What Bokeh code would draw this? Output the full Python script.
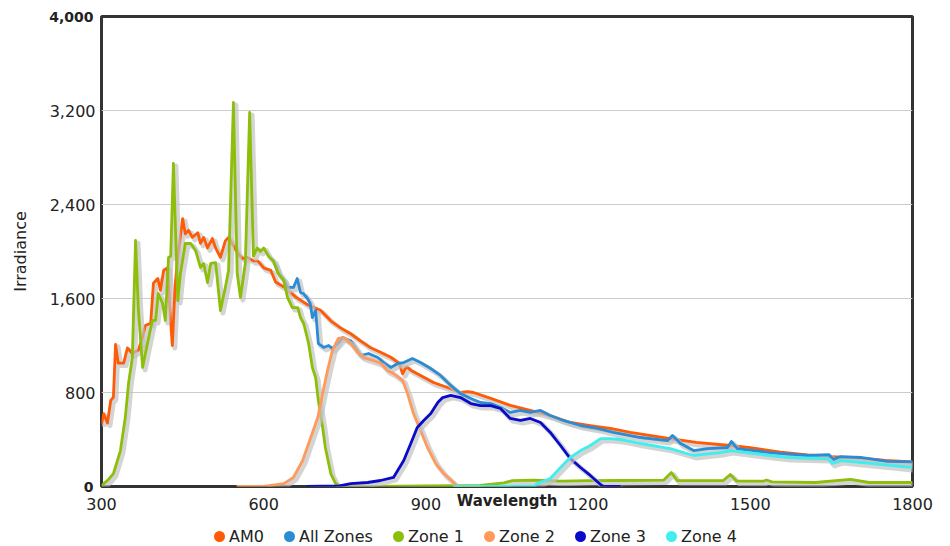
from bokeh.plotting import figure
from bokeh.layouts import column
from bokeh.models import (Range1d, NumeralTickFormatter, FixedTicker, Legend,
                          LegendItem, ColumnDataSource, LinearAxis)
from bokeh.transform import dodge
from bokeh.embed import file_html
from bokeh.resources import INLINE

# ---------------- data ----------------
wavelength_ticks = [300, 600, 900, 1200, 1500, 1800]
irradiance_ticks = [0, 800, 1600, 2400, 3200, 4000]
series_names = ["AM0", "All Zones", "Zone 1", "Zone 2", "Zone 3", "Zone 4"]

am0_x = [300, 304, 311, 317, 322, 326, 331, 341, 348, 357, 363, 368, 376, 381, 391,
         396, 404, 409, 415, 422, 428, 431, 436, 441, 450, 455, 461, 468, 478, 483,
         489, 496, 505, 511, 520, 529, 535, 544, 551, 561, 570, 581, 589, 600, 613,
         622, 640, 660, 680, 705, 724, 742, 761, 779, 798, 817, 835, 850, 857, 864,
         872, 890, 914, 940, 964, 977, 988, 1020, 1056, 1093, 1130, 1167, 1204, 1241,
         1278, 1352, 1400, 1463, 1500, 1556, 1606, 1650, 1700, 1750, 1800]
am0_y = [530, 620, 540, 730, 760, 1210, 1050, 1050, 1180, 1130, 1150, 1160, 1270, 1370, 1390,
         1730, 1770, 1670, 1840, 1860, 1390, 1200, 1700, 1950, 2280, 2150, 2180, 2120, 2160, 2070,
         2120, 2030, 2110, 2030, 1950, 2090, 2120, 2050, 1990, 1940, 1950, 1920, 1920, 1860, 1840,
         1740, 1690, 1610, 1550, 1500, 1410, 1350, 1300, 1240, 1180, 1140, 1100, 1050, 960, 1020,
         990, 945, 885, 843, 800, 808, 800, 750, 690, 647, 604, 545, 519, 494,
         460, 408, 375, 349, 330, 293, 268, 255, 243, 222, 210]

all_x = [618, 627, 637, 644, 655, 662, 668, 674, 681, 686, 690, 696, 701, 711, 720,
         727, 737, 746, 761, 779, 794, 811, 822, 835, 848, 859, 875, 890, 909, 927,
         946, 964, 983, 1001, 1020, 1038, 1056, 1075, 1093, 1112, 1130, 1154, 1186, 1217, 1247,
         1278, 1297, 1347, 1356, 1371, 1395, 1421, 1458, 1465, 1476, 1537, 1606, 1645, 1654, 1667,
         1704, 1754, 1800]
all_y = [1920, 1813, 1760, 1694, 1694, 1770, 1651, 1640, 1600, 1560, 1438, 1498, 1217, 1183, 1200,
         1174, 1217, 1268, 1240, 1115, 1132, 1098, 1055, 1013, 1047, 1055, 1089, 1055, 1004, 945,
         860, 791, 749, 715, 706, 672, 630, 647, 630, 647, 604, 562, 519, 494, 460,
         434, 417, 391, 434, 366, 306, 323, 332, 383, 323, 289, 264, 272, 230, 255,
         247, 213, 210]

z1_x = [300, 304, 313, 322, 335, 344, 350, 357, 363, 368, 376, 385, 394, 400, 405,
        413, 418, 424, 428, 433, 441, 446, 455, 465, 474, 483, 489, 496, 502, 511,
        520, 529, 535, 544, 551, 557, 566, 574, 581, 588, 594, 600, 609, 618, 627,
        637, 644, 653, 663, 668, 674, 683, 690, 696, 701, 709, 714, 724, 733, 742,
        800, 900, 1000, 1044, 1060, 1100, 1150, 1200, 1260, 1340, 1354, 1365, 1450, 1463, 1475,
        1524, 1530, 1540, 1620, 1685, 1720, 1800]
z1_y = [0, 25, 60, 110, 306, 587, 877, 1098, 2094, 1523, 1013, 1217, 1413, 1413, 1643,
        1557, 1413, 1949, 1960, 2749, 1583, 1813, 2068, 2068, 2009, 1864, 1898, 1736, 1898, 1906,
        1498, 1694, 1838, 3268, 1813, 1609, 1898, 3183, 1960, 2030, 2000, 2030, 1960, 1920, 1813,
        1753, 1609, 1523, 1523, 1438, 1387, 1217, 1013, 928, 732, 502, 332, 110, 25, 0,
        0, 5, 10, 30, 50, 55, 45, 50, 51, 55, 119, 50, 51, 102, 45,
        45, 55, 40, 34, 60, 34, 34]

z2_x = [550, 600, 637, 655, 672, 687, 700, 709, 718, 727, 738, 748, 761, 774, 785,
        803, 817, 829, 840, 857, 866, 877, 890, 903, 918, 933, 951, 958, 1000]
z2_y = [0, 0, 25, 77, 221, 417, 587, 791, 987, 1157, 1260, 1268, 1217, 1140, 1098,
        1072, 1047, 987, 962, 902, 791, 621, 477, 332, 196, 110, 34, 0, 0]

z3_x = [680, 740, 761, 792, 816, 840, 859, 872, 884, 896, 909, 922, 931, 946, 964,
        983, 1001, 1020, 1038, 1056, 1075, 1093, 1112, 1130, 1149, 1167, 1186, 1204, 1223, 1228,
        1260]
z3_y = [0, 5, 25, 34, 51, 77, 221, 366, 502, 562, 621, 715, 757, 775, 757,
        706, 689, 689, 664, 579, 562, 579, 545, 460, 349, 238, 162, 94, 17, 0,
        0]

z4_x = [950, 1100, 1106, 1130, 1149, 1167, 1186, 1204, 1223, 1241, 1260, 1278, 1297, 1352, 1395,
        1445, 1463, 1506, 1569, 1643, 1652, 1667, 1722, 1796, 1800]
z4_y = [0, 0, 25, 68, 162, 247, 306, 349, 408, 408, 400, 385, 366, 323, 264,
        289, 306, 281, 247, 238, 196, 221, 196, 162, 160]

# ---------------- style ----------------
colors = ["#ff5a05", "#2b8bd5", "#8cbe0a", "#ff9a5c", "#0a0acb", "#40eeee"]
text_color = "#222222"
font = "DejaVu Sans"

p = figure(width=950, height=516, output_backend="svg", toolbar_location=None,
           x_range=Range1d(300, 1800), y_range=Range1d(0, 4000),
           min_border_left=101, min_border_right=38, min_border_top=16, min_border_bottom=30,
           background_fill_color="white", border_fill_color="white")

p.outline_line_color = "#333333"
p.outline_line_width = 3
p.xgrid.visible = False

xa = p.xaxis[0]
xa.ticker = FixedTicker(ticks=wavelength_ticks)
xa.axis_label = "Wavelength"
xa.axis_label_text_font_style = "bold"
xa.axis_label_text_font_size = "15px"
xa.axis_label_text_font = font
xa.axis_label_text_color = text_color
xa.axis_label_standoff = -21
xa.major_label_standoff = 11

ya = p.yaxis[0]
ya.ticker = FixedTicker(ticks=irradiance_ticks[1:-1])
ya.formatter = NumeralTickFormatter(format="0,0")
ya.axis_label = None
ya.major_label_standoff = 6
p.ygrid.ticker = ya.ticker
p.ygrid.grid_line_color = "#cccccc"
p.ygrid.grid_line_width = 1

yb = LinearAxis(ticker=FixedTicker(ticks=[irradiance_ticks[0], irradiance_ticks[-1]]),
                formatter=NumeralTickFormatter(format="0,0"))
yb.axis_label = "Irradiance"
yb.axis_label_text_font_style = "normal"
yb.axis_label_text_font_size = "16px"
yb.axis_label_text_font = font
yb.axis_label_text_color = text_color
yb.axis_label_standoff = 16
yb.major_label_standoff = -47
yb.major_label_text_font_style = "bold"
p.add_layout(yb, "left")

for ax in (xa, ya, yb):
    ax.axis_line_color = None
    ax.major_tick_line_color = None
    ax.minor_tick_line_color = None
    ax.major_tick_out = 0
    ax.major_tick_in = 0
    ax.major_label_text_font = font
    ax.major_label_text_font_size = "16px"
    ax.major_label_text_color = text_color
yb.major_label_text_font_size = "14px"

series = [(am0_x, am0_y), (all_x, all_y), (z1_x, z1_y), (z2_x, z2_y), (z3_x, z3_y), (z4_x, z4_y)]
dx, dy = 4.6, -21
for (xs, ys), c in zip(series, colors):
    src = ColumnDataSource(dict(x=xs, y=ys))
    p.line(x=dodge("x", dx), y=dodge("y", dy), source=src, line_color="#c2c2c2",
           line_alpha=0.7, line_width=5, line_join="round")
    p.line(x="x", y="y", source=src, line_color=c, line_width=2.8, line_join="round")

# ---------------- legend strip ----------------
lf = figure(width=950, height=30, output_backend="svg", toolbar_location=None,
            x_range=Range1d(0, 1), y_range=Range1d(0, 1),
            min_border_left=0, min_border_right=0, min_border_top=0, min_border_bottom=0,
            x_axis_type=None, y_axis_type=None, outline_line_color=None,
            background_fill_color="white", border_fill_color="white")
lf.grid.visible = False
nan = float("nan")
items = []
for name, c in zip(series_names, colors):
    r = lf.scatter(x=[nan], y=[nan], marker="circle", size=8, fill_color=c,
                   line_color=c, line_width=3)
    items.append(LegendItem(label=name, renderers=[r]))

legend = Legend(items=items, orientation="horizontal", location=(108, 0),
                border_line_color=None, background_fill_alpha=0,
                glyph_width=20, glyph_height=20, label_standoff=-5, spacing=15,
                padding=0, margin=0, label_text_font=font, label_text_font_size="16px",
                label_text_color=text_color, label_height=20)
lf.add_layout(legend)

layout = column(p, lf, spacing=0)
open("out.html", "w").write(file_html(layout, INLINE))
